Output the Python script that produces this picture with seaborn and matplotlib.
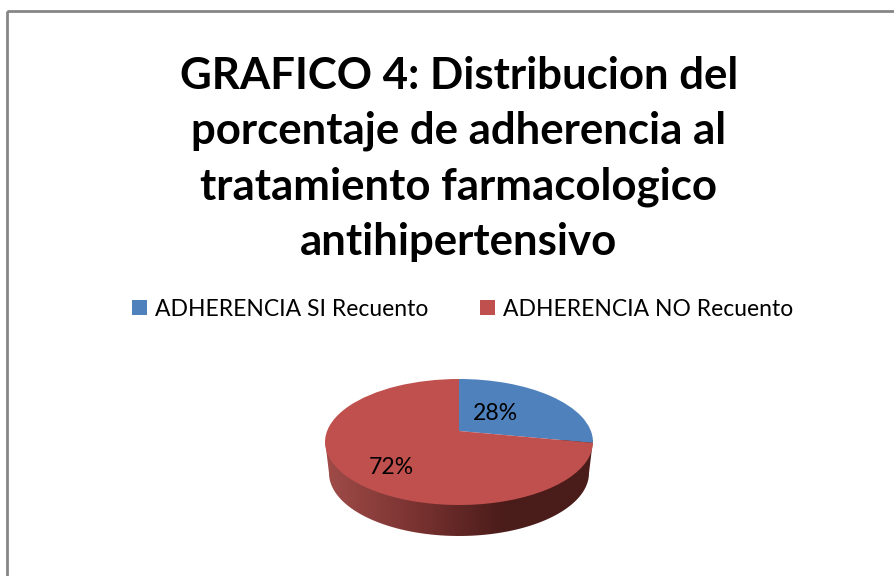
import numpy as np
import matplotlib
matplotlib.use("Agg")
import matplotlib.pyplot as plt
from matplotlib.colors import LinearSegmentedColormap
from matplotlib.patches import Polygon, Rectangle
from matplotlib.transforms import Transform
import seaborn as sns

categories = ["ADHERENCIA SI Recuento", "ADHERENCIA NO Recuento"]
percentages = [28, 72]
title = "GRAFICO 4: Distribucion del\nporcentaje de adherencia al\ntratamiento farmacologico\nantihipertensivo"

sns.set_theme(style="white")
plt.rcParams["font.family"] = ["Lato", "DejaVu Sans"]
colors = sns.color_palette(["#4F81BD", "#C0504D"])


class TiltedPie(Transform):
    """Perspective view of the unit pie, in pixel coordinates."""
    input_dims = output_dims = 2
    has_inverse = False

    def transform_non_affine(self, values):
        values = np.asarray(values)
        w = 1 + 0.1746 * values[:, 1]
        return np.column_stack((459 + 131.9 * values[:, 0] / w, 431 - 61.08 * values[:, 1] / w))


fig = plt.figure(figsize=(8.95, 5.76), dpi=100)
ax = fig.add_axes([0, 0, 1, 1])

# pie side, under the top face
t = np.linspace(np.pi, 0, 80)
side_pts = np.column_stack((459 + 130 * np.cos(t), 473 + 63 * np.sin(t)))
side_pts = np.vstack(([[325, 440]], side_pts, [[593, 440]]))
side = Polygon(side_pts, closed=True, transform=ax.transData, facecolor="none", edgecolor="none")
ax.add_patch(side)
shade = LinearSegmentedColormap.from_list("side", ["#A04C49", "#7A3331", "#4A1C1A", "#4A1C1A"])
img = ax.imshow(np.linspace(0, 1, 256).reshape(1, -1), cmap=shade, extent=(325, 593, 536, 440), aspect="auto", zorder=1)
img.set_clip_path(side)

wedges, texts, autotexts = ax.pie(
    percentages, colors=colors, startangle=90, counterclock=False,
    autopct="%d%%", textprops={"fontsize": 16.6, "color": "black"},
    wedgeprops={"edgecolor": "none", "linewidth": 0}
)
for w in wedges:
    w.set_transform(TiltedPie() + ax.transData)
    w.set_zorder(2)
for txt, pos in zip(autotexts, [(495, 413), (391, 468)]):
    txt.set_position(pos)
    txt.set_zorder(3)

ax.set_xlim(0, 895)
ax.set_ylim(576, 0)
ax.set_aspect("auto")
ax.axis("off")

# chart frame
ax.add_patch(Rectangle((7.5, 11), 1000, 1000, facecolor="none", edgecolor="#868686", linewidth=2, zorder=4))

ax.text(459, 159, title, ha="center", va="center", fontsize=31.5, fontweight="bold", color="black", linespacing=1.46)

ax.legend(
    wedges, categories, ncol=2, loc="center", bbox_to_anchor=(462.5 / 895, 1 - 309 / 576),
    frameon=False, fontsize=16.5, handlelength=0.65, handleheight=0.65, handletextpad=0.35,
    columnspacing=2.27, borderpad=0, labelcolor="black"
)

fig.savefig("out.png", dpi=100)
